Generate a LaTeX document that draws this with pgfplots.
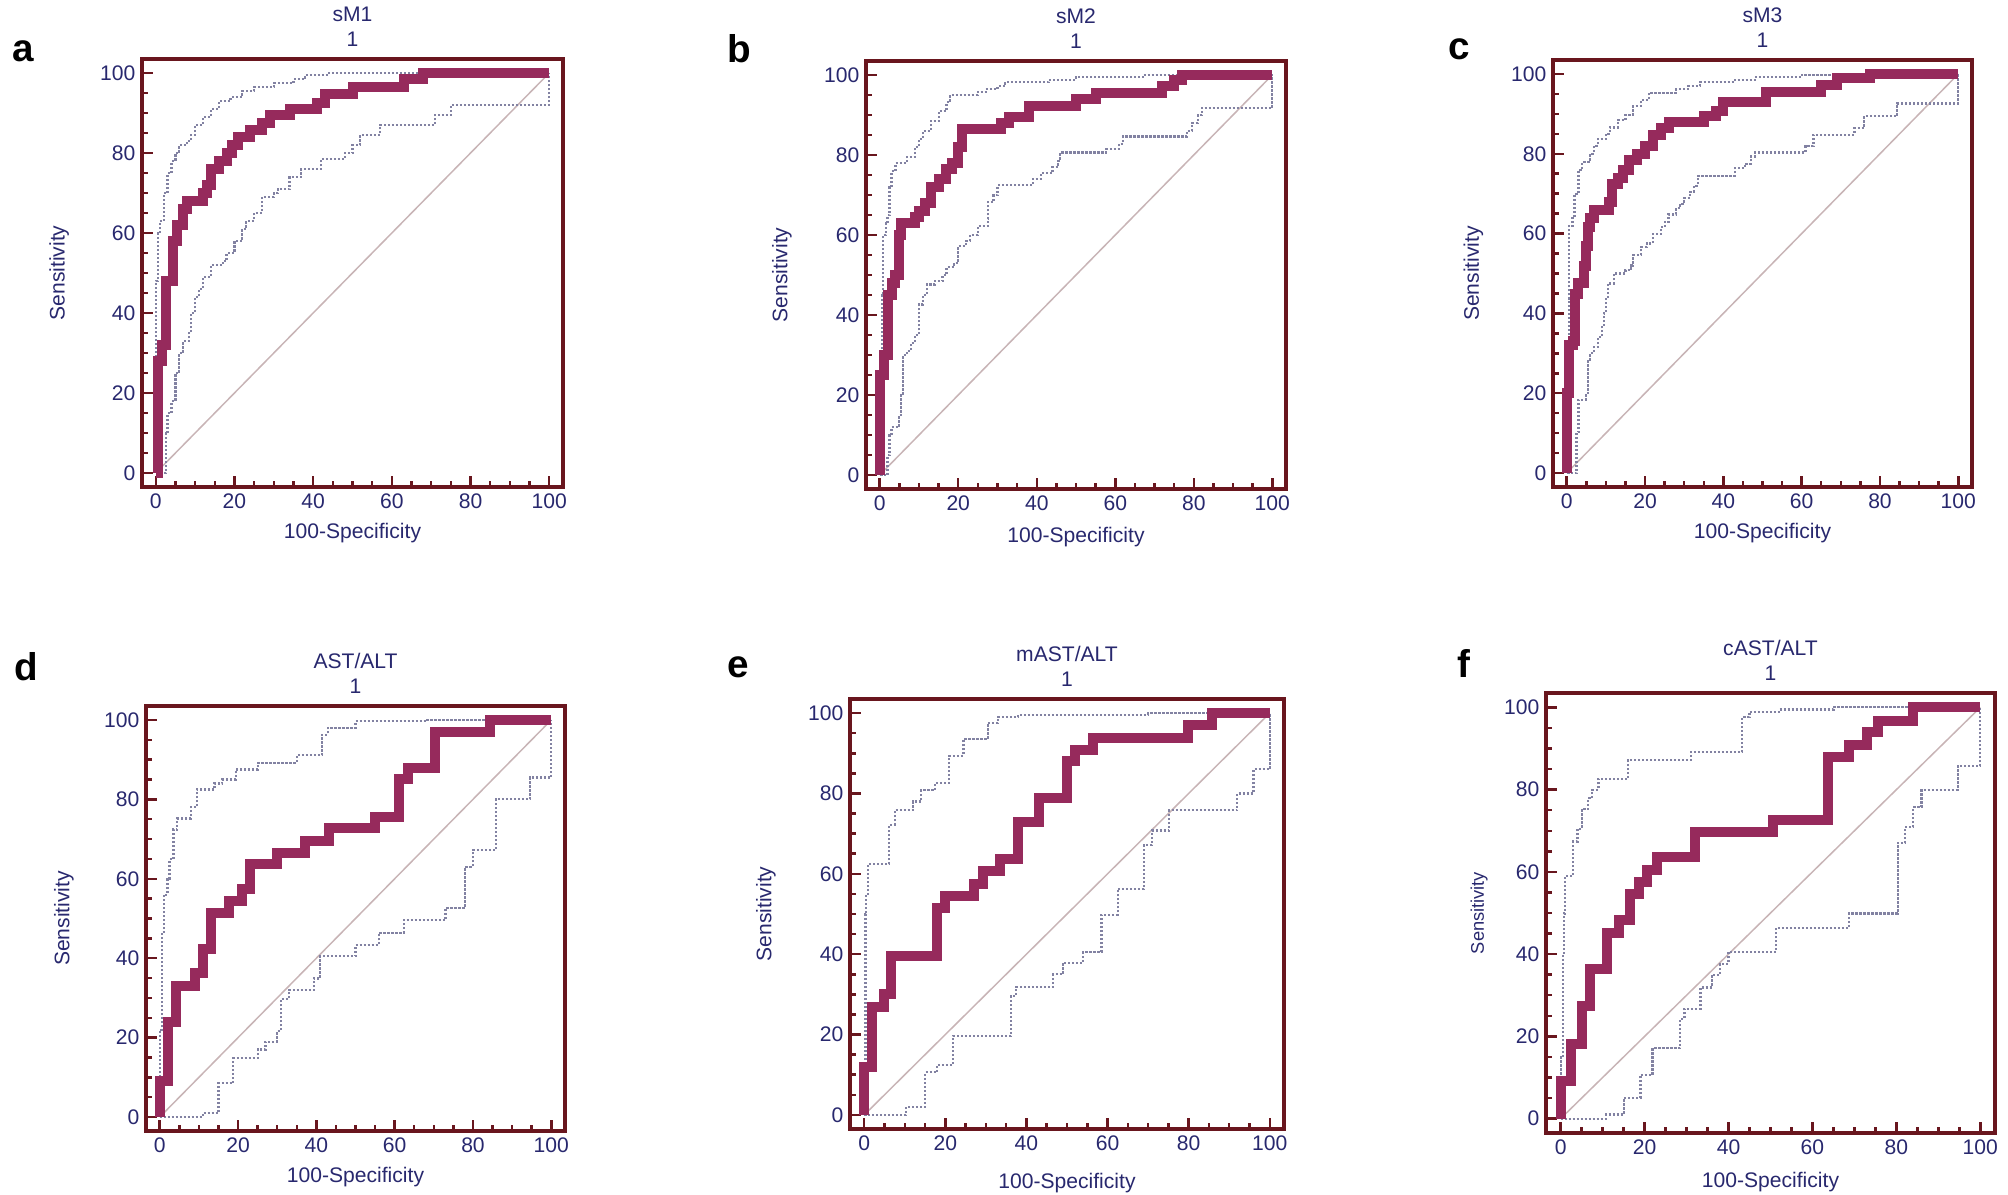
\documentclass[border=0pt]{standalone}
\usepackage{fontspec}
\setmainfont{Liberation Sans}
\usepackage{pgfplots}
\pgfplotsset{compat=1.18}
\definecolor{frame}{RGB}{105,22,30}
\definecolor{roc}{RGB}{150,42,92}
\definecolor{ci}{RGB}{130,130,162}
\definecolor{diag}{RGB}{200,180,182}
\definecolor{navy}{RGB}{40,40,110}
\pgfplotsset{
  every axis title shift=0pt,
  rocax/.style={
    scale only axis, anchor=south west,
    xmin=-3.5, xmax=103.5, ymin=-3.5, ymax=103.5,
    axis line style={draw=frame, line width=0.35mm},
    xtick={0,20,...,100}, ytick={0,20,...,100},
    minor x tick num=3, minor y tick num=3,
    xtick pos=bottom, ytick pos=left, tick align=inside,
    major tick length=1.1mm, minor tick length=0.6mm,
    every tick/.style={draw=frame, line width=0.25mm},
    /pgf/number format/assume math mode=true,
    ticklabel style={font=\fontsize{6}{7}\selectfont, text=navy, inner sep=0.6mm},
    xlabel={100-Specificity}, ylabel={Sensitivity},
    label style={font=\fontsize{6}{7}\selectfont, text=navy},
    xlabel style={at={(axis description cs:0.5,-0.107)}, anchor=center},
    ylabel style={at={(axis description cs:-0.197,0.5)}, anchor=center},
    title style={align=center, font=\fontsize{6}{7.1}\selectfont, text=navy, inner sep=0pt, yshift=1.2mm},
    clip=false,
  },
  diagl/.style={diag, line width=0.15mm},
  cil/.style={ci, line width=0.22mm, dash pattern=on 0.22mm off 0.18mm, const plot},
  rocl/.style={roc, line width=1.0mm, const plot},
}
\newcommand{\plet}[3]{\node[font=\fontsize{11}{12}\selectfont\bfseries, inner sep=0] at (#1mm,#2mm) {#3};}
\begin{document}
\begin{tikzpicture}
\path[use as bounding box] (0,0) rectangle (200.8mm,119.4mm);
% ---------- a ----------
\begin{axis}[rocax, at={(14.2mm,70.7mm)}, width=42.1mm, height=42.8mm, title={sM1\\1}]
\addplot[diagl] coordinates {(0,0)(100,100)};
\addplot[cil] coordinates {(0,0)(0,48)(0.5,60)(1,63)(2,70)(3,75)(4,78)(5,80)(6,82)(8,83)(9,84.5)(10,87)(12,89)(14,91)(16,93)(19,94)(22,95.5)(25,96.5)(30,97.5)(35,98.5)(38,99.5)(44,100)(100,100)};
\addplot[cil] coordinates {(0,0)(2.5,0)(2.5,10)(3,15)(4,18)(5,25)(6,30)(7,33)(8.5,35)(9,40)(10,44)(11,46)(12,49)(14,52)(17,53)(18,55)(20,58)(22,61)(23,63)(25,65)(27,69)(30,70)(31,71)(34,74)(37,76)(42,78.5)(48,80)(50,82)(52,84.5)(57,87)(71,89.5)(75,92)(100,100)};
\addplot[rocl] coordinates {(0,0)(0.5,28)(1.5,32)(2.5,48)(4.5,58)(5.5,62)(7,66)(8,68)(12,70)(13,72)(14,76)(16,78)(18,80)(19.5,82)(21,84)(24,85.7)(27,87.5)(29,89.5)(34,91)(41,92.5)(43,94.7)(50,96.5)(63,98.4)(68,100)(100,100)};
\end{axis}
% ---------- b ----------
\begin{axis}[rocax, at={(86.6mm,70.5mm)}, width=42.0mm, height=42.8mm, title={sM2\\1},
  ylabel style={at={(axis description cs:-0.2,0.5)}}, xlabel style={at={(axis description cs:0.5,-0.112)}}]
\addplot[diagl] coordinates {(0,0)(100,100)};
\addplot[cil] coordinates {(0,0)(0.5,45)(0.8,60)(1.5,63)(2,65)(2.5,72)(3,76)(4,78)(7,79.5)(9,82)(10,84)(11,86)(13,88.5)(15,91)(17,93.2)(18,95)(25,95.8)(27,96.5)(30,97.2)(32,98.2)(43,98.7)(50,99.4)(67,100)(100,100)};
\addplot[cil] coordinates {(0,0)(1.2,0)(2,5)(2.5,10)(3,12)(5,15)(5.5,20)(6,30)(7,31)(8,33)(9,35)(10,42.6)(11,45)(12,47.6)(14,48.5)(16,50)(17,52)(19,53)(20,57.3)(22,58.5)(23,60)(25,62.3)(27.5,64)(27.6,68.2)(29,70)(30,72.4)(39,74)(41,75.4)(44,77)(45.5,78.5)(46,80.6)(57.6,81.5)(61,82.8)(62,84.6)(78.3,86)(79.5,88)(81,90)(82,91.8)(100,100)};
\addplot[rocl] coordinates {(0,0)(0,25)(1,30)(2,45)(3,48)(4,50)(5,60)(5.5,63)(9,64.5)(10,66)(11.5,68)(13,72)(15,74)(17,76.5)(18.5,78)(20,82)(21,86.4)(31,88)(33,89.6)(38,92.3)(50,94)(55,95.5)(72,97.3)(75,98.7)(77,100)(100,100)};
\end{axis}
% ---------- c ----------
\begin{axis}[rocax, at={(155.3mm,70.7mm)}, width=41.9mm, height=42.7mm, title={sM3\\1},
  ylabel style={at={(axis description cs:-0.19,0.5)}}]
\addplot[diagl] coordinates {(0,0)(100,100)};
\addplot[cil] coordinates {(0,0)(0.5,43.7)(0.6,62)(1.5,64)(2,70)(3,76)(4,78)(6,80)(7,82)(8,83.7)(10,85)(11,86.6)(13,88.5)(15,89.8)(17,92)(19,93.4)(21,95.3)(28,96.2)(31,97)(34,98)(43,98.5)(48,99.2)(60,99.8)(100,100)};
\addplot[cil] coordinates {(0,0)(2.5,0)(2.5,10.2)(3,18.4)(5,20)(5.5,28.4)(6,30)(7,31.6)(8,34)(9,37)(9.5,40)(10,43.7)(10.5,47.5)(12,50)(15,50.8)(16.5,52)(17,54.6)(19,56.6)(20.5,57.5)(22,59.8)(24,61.6)(25,63)(26,64.8)(28,66.4)(29,67.5)(30,68.9)(31.5,70.5)(32.5,72)(33.5,74.5)(43,76.4)(45.5,77.5)(47,79.3)(48,80.3)(61,82)(63,84.8)(73.5,86.5)(76,89.4)(84.4,92.6)(100,100)};
\addplot[rocl] coordinates {(0,0)(0,20)(0.5,32)(1.5,33)(2,44.8)(3,47.5)(4.5,52)(5,57)(5.5,61.6)(6,64)(7,66)(10.9,68)(11.5,72.5)(13,74)(14.5,76)(16,78.5)(18,80)(20,82)(22,84.8)(24,86.5)(26,88)(35,89.5)(38,90.7)(40,93)(51,95.5)(65,97.3)(69,99)(77.5,100)(100,100)};
\end{axis}
% ---------- d ----------
\begin{axis}[rocax, at={(14.6mm,6.3mm)}, width=41.9mm, height=42.5mm, title={AST/ALT\\1},
  ylabel style={at={(axis description cs:-0.196,0.5)}}, xlabel style={at={(axis description cs:0.5,-0.108)}}]
\addplot[diagl] coordinates {(0,0)(100,100)};
\addplot[cil] coordinates {(0,0)(0,22)(0.5,46.6)(1,56)(2,60)(2.5,64.9)(3.5,72.4)(4.5,75.2)(8,78)(9.5,82.5)(14,84)(16,85)(19.5,87.5)(25,89.2)(35,91.1)(41.5,96.3)(43,98)(50,99.7)(68,100)(100,100)};
\addplot[cil] coordinates {(0,0)(11,1)(15,8.6)(18.8,14.9)(25,17)(27,19)(30,21.7)(31,29.7)(33,32)(39.3,34.9)(41,40.5)(50,43.3)(56,46.4)(62.3,49.6)(73,52.7)(78,63)(80,67.2)(85.8,80)(94.6,85.5)(100,100)};
\addplot[rocl] coordinates {(0,0)(0,9.1)(2.2,24)(4.1,33)(9,36.3)(11,42.4)(13.2,51.3)(17.8,54.5)(21,57.5)(23,63.6)(30,66.5)(37,69.5)(43.2,72.8)(55,75.6)(61,85)(63.3,87.8)(70.2,96.9)(84.3,100)(100,100)};
\end{axis}
% ---------- e ----------
\begin{axis}[rocax, at={(85.0mm,6.5mm)}, width=43.4mm, height=43.0mm, title={mAST/ALT\\1},
  ylabel style={at={(axis description cs:-0.194,0.5)}}, xlabel style={at={(axis description cs:0.5,-0.126)}}]
\addplot[diagl] coordinates {(0,0)(100,100)};
\addplot[cil] coordinates {(0,0)(0.3,50)(0.5,55)(1,62.5)(6.2,72.2)(7.5,75.8)(12,78)(14,80.8)(17.5,82.6)(21,89.4)(24.5,93.5)(30.5,97.6)(33,99.1)(38,99.6)(70,100)(100,100)};
\addplot[cil] coordinates {(0,0)(10.4,2)(15,10.6)(18,12.5)(21.9,19.7)(36.2,29.6)(37.5,31.9)(46.6,35)(49,37.8)(54,40.5)(58.5,49.8)(62.5,56.3)(69,67.2)(71,70.8)(75.2,75.8)(91.9,80)(96,86)(100,100)};
\addplot[rocl] coordinates {(0,0)(0,12)(2,26.9)(4.9,30)(6.5,39.6)(18,51.6)(20,54.5)(27,57.5)(29.4,60.6)(33.5,63.8)(38,72.8)(43,78.8)(49.9,88)(52,90.8)(56.5,93.9)(79.8,97)(85.8,100)(100,100)};
\end{axis}
% ---------- f ----------
\begin{axis}[rocax, at={(154.6mm,6.1mm)}, width=44.9mm, height=44.0mm, title={cAST/ALT\\1},
  ylabel style={at={(axis description cs:-0.149,0.5)}, font=\fontsize{5.2}{6}\selectfont}, xlabel style={at={(axis description cs:0.5,-0.111)}}]
\addplot[diagl] coordinates {(0,0)(100,100)};
\addplot[cil] coordinates {(0,0)(0,14.9)(0.5,40)(0.8,49.9)(1,59)(3,67.4)(4,70.4)(5,75.2)(6.5,77.9)(7.5,80)(9,82.6)(16.1,87.2)(31,89.2)(43.2,97.6)(45,98.9)(52,99.5)(65,100)(100,100)};
\addplot[cil] coordinates {(0,0)(10.8,1)(15,5)(19,10.7)(21.9,17.1)(28.4,24.2)(29.5,26.7)(33.3,31.9)(36,35)(38,37.6)(40,40.5)(51.4,46.4)(68.7,49.9)(80.3,67.1)(82,70.9)(84,75.7)(86,80)(94.6,85.7)(100,100)};
\addplot[rocl] coordinates {(0,0)(0,9.2)(2.5,18.1)(5.1,27.4)(7.1,36.5)(11.1,45.2)(13.8,48.4)(16.4,54.7)(18.7,57.5)(20.6,60.5)(22.9,63.6)(31.9,69.6)(50.5,72.7)(63.6,87.9)(68.7,90.8)(72.9,94)(75.6,96.8)(84,100)(100,100)};
\end{axis}
% panel letters
\plet{2.3}{114.3}{a}
\plet{73.9}{114.5}{b}
\plet{145.9}{114.5}{c}
\plet{2.6}{52.7}{d}
\plet{73.8}{52.7}{e}
\plet{146.4}{53.1}{f}
\end{tikzpicture}
\end{document}
